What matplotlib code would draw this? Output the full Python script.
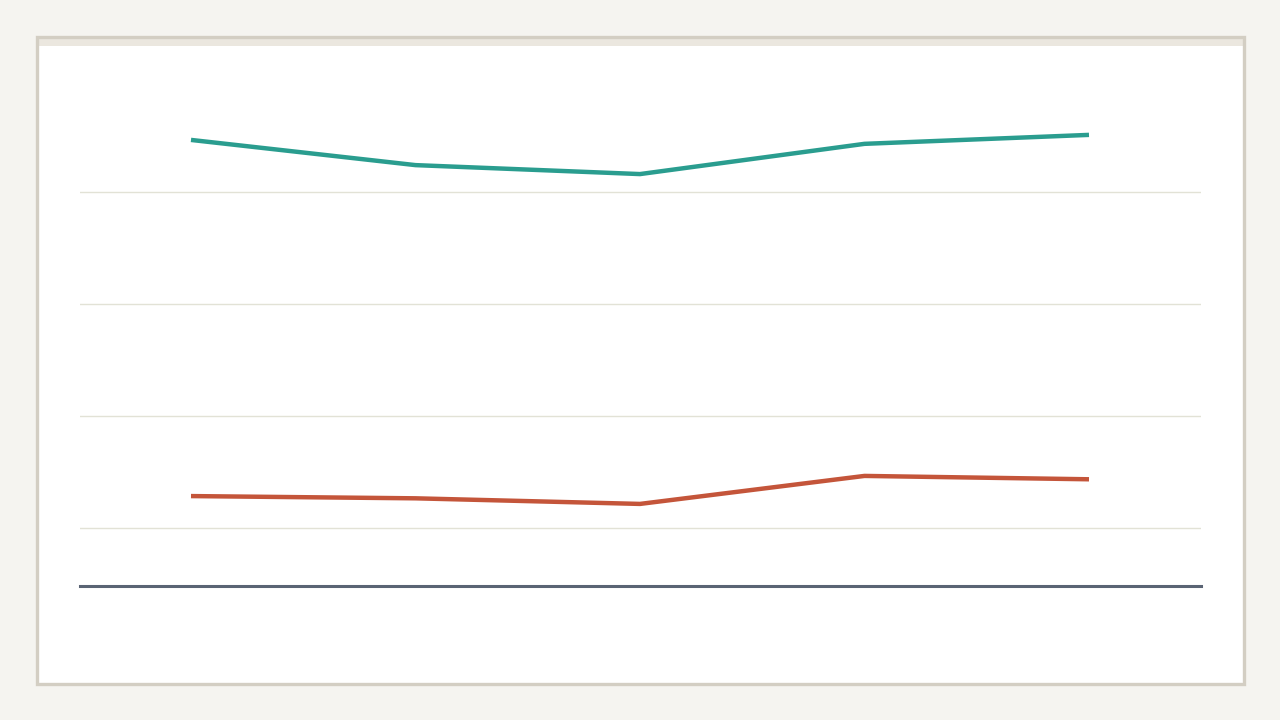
import matplotlib
matplotlib.use("Agg")
import matplotlib.pyplot as plt
from matplotlib.patches import Rectangle

categories = ["A", "B", "C", "D", "E"]
series_top = [89.3, 84.8, 83.2, 88.6, 90.2]
series_bottom = [25.7, 25.3, 24.3, 29.3, 28.7]
grid_values = [20, 40, 60, 80]

fig = plt.figure(figsize=(12.8, 7.2), dpi=100)
fig.patch.set_facecolor("#f5f4f0")

W, H = 1280, 720
def fx(px): return px / W
def fy(py): return 1 - py / H

# card
card = Rectangle((fx(36.5), fy(683.5)), fx(1243.5) - fx(36.5), fy(36.5) - fy(683.5),
                 transform=fig.transFigure, facecolor="white", edgecolor="none",
                 zorder=-3)
fig.patches.append(card)
band = Rectangle((fx(37.5), fy(46)), fx(1242.5) - fx(37.5), fy(37.5) - fy(46),
                 transform=fig.transFigure, facecolor="#ebe7df", edgecolor="none", zorder=-2)
fig.patches.append(band)
border = Rectangle((fx(36.5), fy(683.5)), fx(1243.5) - fx(36.5), fy(36.5) - fy(683.5),
                   transform=fig.transFigure, facecolor="none", edgecolor="#d3cec3",
                   linewidth=2.4, zorder=-1)
fig.patches.append(border)

ax = fig.add_axes([fx(80), fy(586), fx(1201) - fx(80), fy(80) - fy(586)])
ax.set_zorder(2)
ax.set_facecolor("none")
x = list(range(len(categories)))
ax.plot(x, series_top, color="#2a9d8f", linewidth=3.2, solid_capstyle="butt", zorder=3)
ax.plot(x, series_bottom, color="#c4553a", linewidth=3.2, solid_capstyle="butt", zorder=3)

ax.set_xlim(-0.4944, len(categories) - 1 + 0.4989)
ax.set_ylim(20 - 58 / 5.6, 100)
ax.set_yticks(grid_values)
ax.set_xticks([])
ax.grid(axis="y", color="#e2e2d6", linewidth=1.0)
ax.tick_params(left=False, labelleft=False, bottom=False, labelbottom=False)
for s in ["top", "right", "left"]:
    ax.spines[s].set_visible(False)
ax.spines["bottom"].set_color("#5a6474")
ax.spines["bottom"].set_linewidth(2.2)
ax.set_axisbelow(True)

fig.savefig("out.png", dpi=100, facecolor=fig.get_facecolor())
